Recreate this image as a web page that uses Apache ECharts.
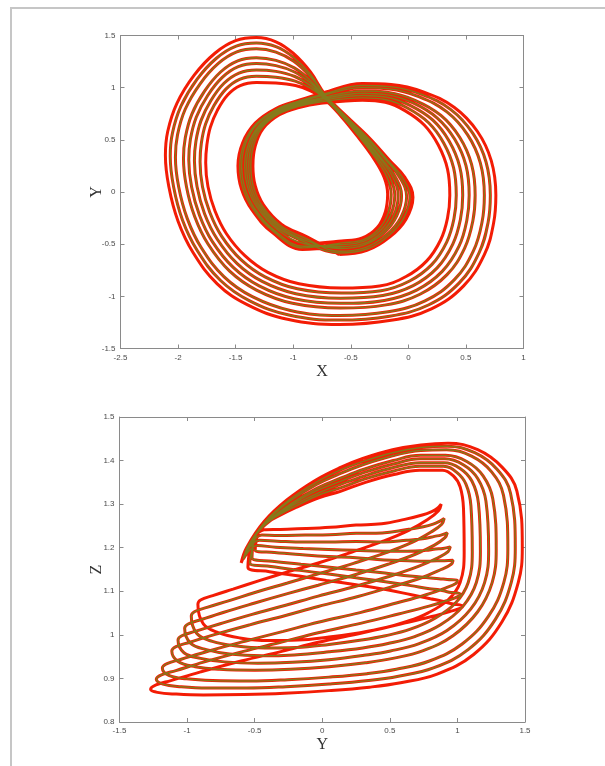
<!DOCTYPE html>
<html>
<head>
<meta charset="utf-8">
<title>attractor</title>
<script src="https://cdn.jsdelivr.net/npm/echarts@6/dist/echarts.min.js"></script>
<style>
  html, body { margin: 0; padding: 0; background: #fff; }
  #wrap { position: relative; width: 605px; height: 766px; }
  #frame { position: absolute; left: 10px; top: 7px; right: 0; bottom: 0;
           border-left: 2px solid #c6c6c6; border-top: 2px solid #c6c6c6; }
  #main { position: absolute; left: 0; top: 0; width: 605px; height: 766px; }
</style>
</head>
<body>
<div id="wrap"><div id="frame"></div><div id="main"></div></div>
<script>
// tick values of the two panels
var xyXTicks = [-2.5, -2, -1.5, -1, -0.5, 0, 0.5, 1];
var xyYTicks = [-1.5, -1, -0.5, 0, 0.5, 1, 1.5];
var yzXTicks = [-1.5, -1, -0.5, 0, 0.5, 1, 1.5];
var yzYTicks = [0.8, 0.9, 1, 1.1, 1.2, 1.3, 1.4, 1.5];

// trajectory, one array per lap, points are [x, y, z]
var cycle1 = [
  [-0.60,-0.60,1.165], [-0.36,-0.56,1.200], [-0.16,-0.43,1.260], [-0.02,-0.26,1.310], [0.04,-0.05,1.355],
  [-0.03,0.14,1.385], [-0.16,0.30,1.405], [-0.34,0.52,1.425], [-0.54,0.73,1.436], [-0.72,0.93,1.440],
  [-0.85,1.15,1.425], [-1.00,1.33,1.385], [-1.15,1.44,1.330], [-1.32,1.48,1.200], [-1.50,1.45,1.120],
  [-1.68,1.33,1.030], [-1.86,1.12,0.955], [-2.01,0.85,0.910], [-2.09,0.58,0.890], [-2.11,0.35,0.880],
  [-2.08,0.05,0.872], [-2.00,-0.28,0.866], [-1.87,-0.58,0.863], [-1.66,-0.88,0.862], [-1.40,-1.08,0.864],
  [-1.05,-1.22,0.868], [-0.60,-1.27,0.875], [-0.15,-1.23,0.885], [0.20,-1.12,0.895], [0.48,-0.90,0.915],
  [0.66,-0.60,0.940], [0.74,-0.30,0.962], [0.76,-0.03,0.983], [0.72,0.30,1.005], [0.60,0.58,1.025],
  [0.40,0.81,1.042], [0.13,0.96,1.055], [-0.15,1.03,1.062], [-0.40,1.04,1.066], [-0.74,0.95,1.072],
  [-0.95,0.88,1.078], [-1.15,0.80,1.083], [-1.33,0.66,1.092], [-1.44,0.47,1.104], [-1.48,0.25,1.115],
  [-1.45,0.03,1.125], [-1.36,-0.17,1.135], [-1.18,-0.39,1.145], [-0.92,-0.55,1.155]
];
var cycle2 = [
  [-0.60,-0.584,1.174], [-0.36,-0.546,1.206], [-0.173,-0.419,1.261], [-0.042,-0.252,1.308], [0.014,-0.046,1.350],
  [-0.052,0.14,1.379], [-0.177,0.302,1.398], [-0.352,0.52,1.418], [-0.545,0.729,1.430], [-0.72,0.925,1.433],
  [-0.85,1.128,1.418], [-1.00,1.293,1.380], [-1.15,1.393,1.325], [-1.32,1.428,1.200], [-1.495,1.398,1.120],
  [-1.667,1.282,1.036], [-1.836,1.079,0.966], [-1.975,0.822,0.924], [-2.049,0.564,0.905], [-2.068,0.342,0.895],
  [-2.039,0.05,0.887], [-1.962,-0.268,0.881], [-1.835,-0.558,0.878], [-1.631,-0.848,0.878], [-1.378,-1.043,0.881],
  [-1.038,-1.179,0.887], [-0.60,-1.228,0.898], [-0.162,-1.19,0.908], [0.174,-1.083,0.918], [0.442,-0.871,0.938],
  [0.614,-0.583,0.962], [0.692,-0.294,0.984], [0.712,-0.03,1.005], [0.674,0.29,1.027], [0.559,0.564,1.048],
  [0.369,0.79,1.066], [0.111,0.938,1.080], [-0.156,1.01,1.089], [-0.40,1.021,1.094], [-0.742,0.938,1.098],
  [-0.95,0.872,1.103], [-1.146,0.793,1.106], [-1.322,0.654,1.113], [-1.427,0.466,1.122], [-1.464,0.25,1.131],
  [-1.436,0.034,1.140], [-1.348,-0.164,1.148], [-1.17,-0.38,1.157], [-0.915,-0.536,1.165]
];
var cycle3 = [
  [-0.60,-0.568,1.184], [-0.37,-0.53,1.213], [-0.188,-0.408,1.262], [-0.065,-0.243,1.306], [-0.015,-0.043,1.345],
  [-0.075,0.14,1.371], [-0.195,0.305,1.391], [-0.365,0.52,1.411], [-0.55,0.728,1.423], [-0.72,0.92,1.425],
  [-0.85,1.105,1.410], [-0.995,1.253,1.374], [-1.15,1.341,1.320], [-1.32,1.373,1.198], [-1.49,1.343,1.120],
  [-1.653,1.23,1.043], [-1.81,1.035,0.979], [-1.938,0.793,0.940], [-2.005,0.548,0.921], [-2.023,0.333,0.911],
  [-1.995,0.05,0.903], [-1.92,-0.255,0.897], [-1.798,-0.535,0.894], [-1.60,-0.813,0.895], [-1.355,-1.003,0.899],
  [-1.025,-1.135,0.907], [-0.60,-1.183,0.924], [-0.175,-1.148,0.934], [0.145,-1.043,0.944], [0.40,-0.84,0.963],
  [0.565,-0.565,0.986], [0.64,-0.288,1.008], [0.66,-0.03,1.029], [0.625,0.28,1.051], [0.515,0.548,1.073],
  [0.335,0.768,1.092], [0.09,0.915,1.108], [-0.163,0.988,1.118], [-0.40,1.00,1.125], [-0.745,0.925,1.127],
  [-0.95,0.863,1.129], [-1.143,0.785,1.131], [-1.313,0.648,1.135], [-1.413,0.463,1.142], [-1.448,0.25,1.149],
  [-1.42,0.038,1.156], [-1.335,-0.158,1.162], [-1.16,-0.37,1.169], [-0.91,-0.52,1.177]
];
var cycle4 = [
  [-0.59,-0.542,1.199], [-0.38,-0.506,1.223], [-0.21,-0.39,1.264], [-0.101,-0.229,1.302], [-0.059,-0.037,1.337],
  [-0.111,0.14,1.360], [-0.223,0.309,1.380], [-0.385,0.525,1.400], [-0.558,0.726,1.412], [-0.725,0.912,1.412],
  [-0.85,1.069,1.398], [-0.991,1.19,1.365], [-1.15,1.262,1.312], [-1.32,1.287,1.196], [-1.482,1.257,1.120],
  [-1.631,1.15,1.053], [-1.77,0.967,0.998], [-1.88,0.747,0.964], [-1.937,0.522,0.946], [-1.953,0.319,0.936],
  [-1.927,0.05,0.927], [-1.856,-0.235,0.921], [-1.74,-0.499,0.919], [-1.552,-0.759,0.921], [-1.319,-0.94,0.927],
  [-1.005,-1.067,0.939], [-0.59,-1.113,0.963], [-0.195,-1.082,0.973], [0.101,-0.98,0.983], [0.336,-0.792,1.001],
  [0.489,-0.537,1.023], [0.56,-0.278,1.044], [0.58,-0.03,1.065], [0.549,0.264,1.088], [0.447,0.522,1.111],
  [0.283,0.734,1.131], [0.058,0.879,1.150], [-0.173,0.954,1.162], [-0.40,0.968,1.171], [-0.749,0.905,1.170],
  [-0.95,0.849,1.170], [-1.137,0.773,1.169], [-1.299,0.638,1.170], [-1.39,0.457,1.172], [-1.422,0.25,1.177],
  [-1.396,0.044,1.180], [-1.315,-0.148,1.184], [-1.144,-0.354,1.189], [-0.902,-0.496,1.194]
];
var cycle5 = [
  [-0.59,-0.525,1.209], [-0.38,-0.49,1.230], [-0.224,-0.378,1.266], [-0.124,-0.219,1.300], [-0.088,-0.033,1.332],
  [-0.134,0.14,1.353], [-0.241,0.312,1.373], [-0.398,0.526,1.392], [-0.563,0.724,1.404], [-0.726,0.907,1.404],
  [-0.85,1.046,1.390], [-0.988,1.15,1.359], [-1.15,1.211,1.307], [-1.32,1.231,1.194], [-1.477,1.201,1.120],
  [-1.616,1.098,1.059], [-1.744,0.923,1.010], [-1.842,0.717,0.980], [-1.893,0.505,0.963], [-1.907,0.309,0.953],
  [-1.883,0.05,0.943], [-1.814,-0.222,0.937], [-1.702,-0.476,0.935], [-1.521,-0.723,0.938], [-1.296,-0.90,0.946],
  [-0.992,-1.023,0.959], [-0.59,-1.067,0.988], [-0.208,-1.039,0.998], [0.072,-0.94,1.008], [0.294,-0.761,1.025],
  [0.44,-0.519,1.047], [0.508,-0.271,1.068], [0.528,-0.03,1.089], [0.50,0.254,1.112], [0.403,0.505,1.135],
  [0.249,0.711,1.157], [0.037,0.856,1.177], [-0.179,0.931,1.191], [-0.40,0.947,1.202], [-0.752,0.892,1.198],
  [-0.95,0.839,1.197], [-1.133,0.765,1.194], [-1.289,0.631,1.192], [-1.376,0.453,1.192], [-1.405,0.25,1.194],
  [-1.38,0.047,1.196], [-1.302,-0.141,1.198], [-1.134,-0.344,1.201], [-0.897,-0.48,1.205]
];
var cycle6 = [
  [-0.59,-0.506,1.219], [-0.39,-0.474,1.237], [-0.239,-0.365,1.267], [-0.15,-0.21,1.298], [-0.118,-0.028,1.326],
  [-0.16,0.14,1.346], [-0.261,0.314,1.365], [-0.412,0.527,1.384], [-0.569,0.723,1.395], [-0.727,0.901,1.395],
  [-0.85,1.02,1.382], [-0.986,1.107,1.353], [-1.15,1.156,1.301], [-1.32,1.17,1.193], [-1.471,1.14,1.120],
  [-1.601,1.042,1.066], [-1.716,0.875,1.023], [-1.801,0.684,0.996], [-1.845,0.486,0.980], [-1.858,0.30,0.970],
  [-1.835,0.05,0.961], [-1.77,-0.208,0.954], [-1.661,-0.45,0.952], [-1.487,-0.686,0.956], [-1.27,-0.857,0.966],
  [-0.978,-0.975,0.981], [-0.59,-1.018,1.015], [-0.222,-0.992,1.025], [0.042,-0.897,1.035], [0.25,-0.727,1.052],
  [0.386,-0.499,1.073], [0.452,-0.264,1.094], [0.472,-0.03,1.114], [0.446,0.242,1.138], [0.355,0.486,1.162],
  [0.213,0.688,1.185], [0.015,0.83,1.206], [-0.186,0.908,1.223], [-0.40,0.925,1.234], [-0.754,0.878,1.229],
  [-0.95,0.83,1.226], [-1.128,0.757,1.221], [-1.28,0.624,1.217], [-1.361,0.448,1.213], [-1.386,0.25,1.214],
  [-1.364,0.052,1.213], [-1.288,-0.134,1.213], [-1.122,-0.332,1.215], [-0.891,-0.464,1.217]
];
var cycle7 = [
  [-0.58,-0.488,1.230], [-0.39,-0.457,1.245], [-0.255,-0.353,1.269], [-0.175,-0.20,1.295], [-0.149,-0.024,1.321],
  [-0.185,0.14,1.338], [-0.28,0.317,1.358], [-0.426,0.529,1.376], [-0.574,0.721,1.387], [-0.729,0.896,1.387],
  [-0.85,0.995,1.373], [-0.983,1.063,1.346], [-1.15,1.10,1.296], [-1.32,1.11,1.191], [-1.466,1.08,1.120],
  [-1.585,0.986,1.073], [-1.688,0.828,1.037], [-1.761,0.652,1.013], [-1.798,0.468,0.998], [-1.809,0.29,0.988],
  [-1.788,0.05,0.978], [-1.725,-0.194,0.971], [-1.621,-0.425,0.970], [-1.454,-0.648,0.975], [-1.245,-0.813,0.985],
  [-0.964,-0.928,1.003], [-0.58,-0.969,1.043], [-0.236,-0.946,1.053], [0.011,-0.853,1.063], [0.205,-0.694,1.078],
  [0.333,-0.48,1.099], [0.396,-0.257,1.119], [0.416,-0.03,1.140], [0.393,0.231,1.164], [0.308,0.468,1.188],
  [0.176,0.664,1.212], [-0.008,0.805,1.236], [-0.193,0.884,1.254], [-0.40,0.902,1.267], [-0.757,0.864,1.260],
  [-0.95,0.82,1.254], [-1.124,0.748,1.248], [-1.27,0.617,1.241], [-1.345,0.444,1.234], [-1.368,0.25,1.233],
  [-1.347,0.056,1.230], [-1.274,-0.127,1.229], [-1.111,-0.321,1.228], [-0.886,-0.447,1.229]
];
var cycle8 = [
  [-0.58,-0.47,1.240], [-0.40,-0.44,1.252], [-0.27,-0.34,1.270], [-0.20,-0.19,1.293], [-0.18,-0.02,1.315],
  [-0.21,0.14,1.330], [-0.30,0.32,1.350], [-0.44,0.53,1.368], [-0.58,0.72,1.378], [-0.73,0.89,1.378],
  [-0.85,0.97,1.365], [-0.98,1.02,1.340], [-1.15,1.045,1.290], [-1.32,1.05,1.190], [-1.46,1.02,1.120],
  [-1.57,0.93,1.080], [-1.66,0.78,1.050], [-1.72,0.62,1.030], [-1.75,0.45,1.015], [-1.76,0.28,1.005],
  [-1.74,0.05,0.995], [-1.68,-0.18,0.988], [-1.58,-0.40,0.987], [-1.42,-0.61,0.993], [-1.22,-0.77,1.005],
  [-0.95,-0.88,1.025], [-0.58,-0.92,1.070], [-0.25,-0.90,1.080], [-0.02,-0.81,1.090], [0.16,-0.66,1.105],
  [0.28,-0.46,1.125], [0.34,-0.25,1.145], [0.36,-0.03,1.165], [0.34,0.22,1.190], [0.26,0.45,1.215],
  [0.14,0.64,1.240], [-0.03,0.78,1.265], [-0.20,0.86,1.285], [-0.40,0.88,1.300], [-0.76,0.85,1.290],
  [-0.95,0.81,1.283], [-1.12,0.74,1.275], [-1.26,0.61,1.265], [-1.33,0.44,1.255], [-1.35,0.25,1.252],
  [-1.33,0.06,1.247], [-1.26,-0.12,1.244], [-1.10,-0.31,1.242], [-0.88,-0.43,1.241]
];

// laps of the red run and of the olive run drawn over it
var redLaps = [cycle1, cycle5, cycle2, cycle7, cycle3, cycle6, cycle4, cycle8];
var oliveLaps = [cycle5, cycle2, cycle7, cycle3, cycle6, cycle4];

function joinLaps(laps) {
  var p = [];
  laps.forEach(function (lap) { p = p.concat(lap); });
  p.push(p[0]);
  return p;
}
var redPath = joinLaps(redLaps);
var olivePath = joinLaps(oliveLaps);

function xy(path) { return path.map(function (p) { return [p[0], p[1]]; }); }
function yz(path) { return path.map(function (p) { return [p[1], p[2]]; }); }

var axisColor = '#8a8a8a';
var labelStyle = { color: '#4a4a4a', fontSize: 8, fontFamily: 'Liberation Sans, Arial, sans-serif' };
var nameStyle = { color: '#333', fontSize: 16, fontFamily: 'Liberation Serif, Times New Roman, serif' };

function tickText(v) { return String(+v.toFixed(2)); }

function mainAxis(grid, ticks, name, gap, pos) {
  return {
    gridIndex: grid, type: 'value', position: pos,
    min: ticks[0], max: ticks[ticks.length - 1], interval: ticks[1] - ticks[0],
    name: name, nameLocation: 'middle', nameGap: gap, nameTextStyle: nameStyle,
    nameMoveOverlap: false,
    axisLine: { show: true, onZero: false, lineStyle: { color: axisColor, width: 1 } },
    axisTick: { show: true, inside: true, length: 4, lineStyle: { color: axisColor } },
    axisLabel: Object.assign({ margin: 5, showMinLabel: true, showMaxLabel: true, formatter: tickText }, labelStyle),
    splitLine: { show: false }
  };
}
function boxAxis(grid, ticks, pos) {
  return {
    gridIndex: grid, type: 'value', position: pos,
    min: ticks[0], max: ticks[ticks.length - 1], interval: ticks[1] - ticks[0],
    axisLine: { show: true, onZero: false, lineStyle: { color: axisColor, width: 1 } },
    axisTick: { show: true, inside: true, length: 4, lineStyle: { color: axisColor } },
    axisLabel: { show: false },
    splitLine: { show: false }
  };
}

var redLine = { color: '#f31c05', width: 3 };
var oliveLine = { color: '#857a1a', width: 1.4 };

function curve(xi, data, style, z) {
  return { type: 'line', xAxisIndex: xi, yAxisIndex: xi, data: data, smooth: 0.4,
           symbol: 'none', lineStyle: style, z: z };
}

var myChart = echarts.init(document.getElementById('main'));
var option = {
  animation: false,
  backgroundColor: 'transparent',
  grid: [
    { left: 120.5, top: 35.5, width: 403, height: 313, outerBoundsMode: 'none' },
    { left: 119.5, top: 417, width: 405.5, height: 305, outerBoundsMode: 'none' }
  ],
  xAxis: [
    mainAxis(0, xyXTicks, 'X', 15, 'bottom'),
    boxAxis(0, xyXTicks, 'top'),
    mainAxis(1, yzXTicks, 'Y', 15, 'bottom'),
    boxAxis(1, yzXTicks, 'top')
  ],
  yAxis: [
    mainAxis(0, xyYTicks, 'Y', 16, 'left'),
    boxAxis(0, xyYTicks, 'right'),
    mainAxis(1, yzYTicks, 'Z', 15, 'left'),
    boxAxis(1, yzYTicks, 'right')
  ],
  series: [
    curve(0, xy(redPath), redLine, 2),
    curve(0, xy(olivePath), oliveLine, 3),
    curve(2, yz(redPath), redLine, 2),
    curve(2, yz(olivePath), oliveLine, 3)
  ]
};
myChart.setOption(option);
</script>
</body>
</html>
